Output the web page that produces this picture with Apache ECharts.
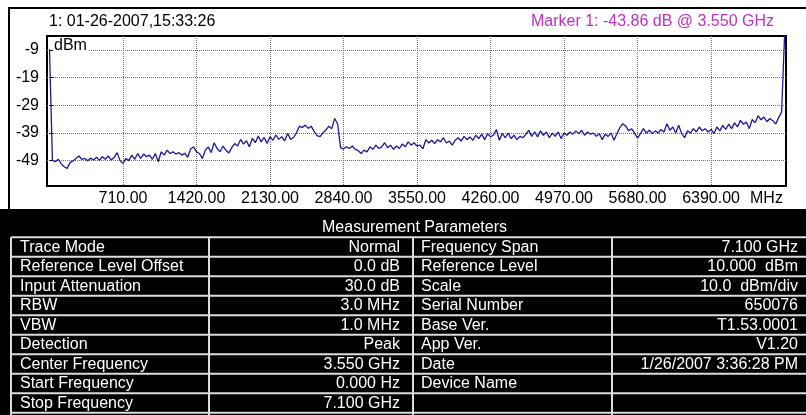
<!DOCTYPE html>
<html>
<head>
<meta charset="utf-8">
<script src="https://cdn.jsdelivr.net/npm/echarts@6/dist/echarts.min.js"></script>
<style>
  html, body { margin: 0; padding: 0; background: #fff; }
  #chart { width: 806px; height: 415px; }
</style>
</head>
<body>
<div id="chart"></div>
<script>
// Sweep settings of the spectrum trace (MHz)
const startFreqMHz = 0;
const stopFreqMHz = 7100;

// Trace levels (dBm), one per sweep point from start to stop frequency
const traceLevels = [
  -8.7, -49.0, -49.5, -48.6, -50.3, -51.3, -51.9, -49.8, -49.2, -48.3, -47.4, -48.6, -48.3, -49.1, -48.2, -48.9, -47.9, -49.0, -47.7, -48.6, -47.4, -48.9, -47.9, -46.2, -49.1,
  -50.1, -48.3, -49.1, -47.1, -48.6, -46.5, -48.3, -46.7, -47.7, -47.1, -48.6, -46.5, -49.5, -45.9, -47.1, -45.3, -46.5, -45.9, -46.7, -46.2, -47.1, -46.4, -47.9, -44.9, -44.1,
  -45.9, -46.5, -48.3, -45.3, -44.1, -46.2, -42.6, -44.7, -45.9, -43.8, -45.3, -46.3, -44.4, -42.9, -43.8, -41.4, -43.1, -41.9, -44.1, -41.0, -42.6, -40.2, -42.3, -40.7, -42.9,
  -40.4, -41.7, -39.8, -41.4, -40.4, -41.9, -39.2, -41.4, -40.7, -39.0, -36.6, -37.1, -36.2, -37.4, -36.6, -38.5, -40.0, -40.4, -39.0, -38.0, -36.6, -37.5, -33.8, -35.8, -44.4,
  -44.9, -44.1, -44.7, -43.8, -45.0, -45.5, -46.5, -45.3, -45.9, -44.1, -45.0, -43.5, -44.7, -44.1, -42.6, -44.4, -43.5, -45.0, -43.8, -44.7, -43.1, -44.1, -42.3, -43.5, -42.6,
  -43.86, -43.5, -44.8, -41.5, -42.7, -41.7, -42.9, -41.5, -42.3, -40.8, -42.7, -42.0, -43.5, -41.7, -40.8, -42.0, -40.3, -41.5, -40.5, -41.7, -39.9, -41.1, -39.5, -41.5, -39.3,
  -40.5, -39.8, -37.8, -41.7, -39.3, -40.8, -39.1, -41.1, -39.9, -41.5, -40.3, -40.8, -39.6, -38.1, -40.3, -38.7, -40.5, -38.3, -39.9, -38.7, -40.8, -39.1, -40.3, -38.7, -41.1,
  -39.1, -39.9, -38.7, -39.5, -38.3, -39.3, -38.1, -39.9, -38.7, -39.5, -39.1, -40.3, -39.3, -41.5, -39.5, -40.3, -39.1, -41.7, -39.3, -37.1, -35.7, -36.6, -38.3, -37.5, -39.1,
  -40.9, -39.3, -37.5, -39.1, -38.1, -39.3, -38.3, -39.1, -37.8, -38.7, -35.7, -38.1, -36.9, -39.1, -36.3, -39.3, -40.8, -38.3, -39.1, -37.5, -38.7, -36.9, -38.3, -37.5, -38.7,
  -37.8, -39.3, -36.9, -38.3, -36.3, -37.8, -35.9, -37.5, -35.4, -36.9, -34.5, -35.9, -35.1, -37.5, -34.2, -35.4, -32.8, -34.3, -33.3, -35.0, -33.8, -34.6, -35.8, -33.5, -31.5,
  -3.9
];

// Axis ticks
const levelTicks = [-49, -39, -29, -19, -9];
const freqTicks = [710, 1420, 2130, 2840, 3550, 4260, 4970, 5680, 6390];
const levelUnit = 'dBm';
const freqUnit = 'MHz';

// Header texts
const traceStamp = '1: 01-26-2007,15:33:26';
const markerReadout = 'Marker 1: -43.86 dB @ 3.550 GHz';

// Measurement parameter table
const tableTitle = 'Measurement Parameters';
const paramNamesLeft = ['Trace Mode', 'Reference Level Offset', 'Input Attenuation', 'RBW', 'VBW', 'Detection', 'Center Frequency', 'Start Frequency', 'Stop Frequency'];
const paramValuesLeft = ['Normal', '0.0 dB', '30.0 dB', '3.0 MHz', '1.0 MHz', 'Peak', '3.550 GHz', '0.000 Hz', '7.100 GHz'];
const paramNamesRight = ['Frequency Span', 'Reference Level', 'Scale', 'Serial Number', 'Base Ver.', 'App Ver.', 'Date', 'Device Name', ''];
const paramValuesRight = ['7.100 GHz', '10.000  dBm', '10.0  dBm/div', '650076', 'T1.53.0001', 'V1.20', '1/26/2007 3:36:28 PM', '', ''];

const FONT = '"Liberation Sans", Arial, Helvetica, sans-serif';
const font16 = '16px ' + FONT;

const step = (stopFreqMHz - startFreqMHz) / (traceLevels.length - 1);
const traceData = traceLevels.map((v, i) => [startFreqMHz + i * step, v]);

// Table drawing
const tableTop = 237.3;
const rowH = 19.5;
const colLines = [11, 209, 413, 612];
const graphics = [];

// frame of the upper panel
graphics.push({ type: 'line', shape: { x1: 9, y1: 7, x2: 9, y2: 210 }, style: { stroke: '#000', lineWidth: 2 } });
graphics.push({ type: 'line', shape: { x1: 8, y1: 8, x2: 806, y2: 8 }, style: { stroke: '#000', lineWidth: 2 } });

graphics.push({ type: 'text', x: 49, y: 22, style: { text: traceStamp, fill: '#000', font: font16, align: 'left', verticalAlign: 'middle' } });
graphics.push({ type: 'text', x: 774, y: 22, style: { text: markerReadout, fill: '#c22fc6', font: font16, align: 'right', verticalAlign: 'middle' } });
graphics.push({ type: 'text', x: 53, y: 46, z: 10, style: { text: levelUnit, fill: '#000', font: font16, align: 'left', verticalAlign: 'middle', backgroundColor: '#fff', padding: [0, 1] } });
graphics.push({ type: 'text', x: 750, y: 198.5, style: { text: freqUnit, fill: '#000', font: font16, align: 'left', verticalAlign: 'middle' } });

// black parameter panel
graphics.push({ type: 'rect', shape: { x: 0, y: 209, width: 806, height: 206 }, style: { fill: '#000' } });
graphics.push({ type: 'text', x: 414.5, y: 228, style: { text: tableTitle, fill: '#fff', font: font16, align: 'center', verticalAlign: 'middle' } });

for (let i = 0; i <= paramNamesLeft.length; i++) {
  const y = tableTop + i * rowH;
  graphics.push({ type: 'line', shape: { x1: 11, y1: y, x2: 806, y2: y }, style: { stroke: '#dcdcdc', lineWidth: 2 } });
}
colLines.forEach(x => {
  graphics.push({ type: 'line', shape: { x1: x, y1: tableTop, x2: x, y2: 415 }, style: { stroke: '#dcdcdc', lineWidth: 2 } });
});
paramNamesLeft.forEach((name, i) => {
  const cy = tableTop + i * rowH + rowH / 2 + 0.5;
  const cells = [
    [name, 20, 'left'],
    [paramValuesLeft[i], 400, 'right'],
    [paramNamesRight[i], 421, 'left'],
    [paramValuesRight[i], 798, 'right']
  ];
  cells.forEach(([t, x, al]) => {
    if (!t) return;
    graphics.push({ type: 'text', x: x, y: cy, style: { text: t, fill: '#fff', font: font16, align: al, verticalAlign: 'middle' } });
  });
});

const gridLine = { show: true, lineStyle: { color: '#707070', type: [1, 1], width: 1 } };

const chart = echarts.init(document.getElementById('chart'), null, { renderer: 'canvas' });
chart.setOption({
  animation: false,
  backgroundColor: '#fff',
  grid: {
    left: 47, top: 36, width: 739, height: 150,
    show: true, borderColor: '#000', borderWidth: 2, backgroundColor: '#fff',
    outerBoundsMode: 'none'
  },
  xAxis: {
    type: 'value',
    min: -24, max: 7114,
    axisLine: { show: false },
    axisTick: { show: false, customValues: freqTicks },
    axisLabel: {
      customValues: freqTicks,
      formatter: v => v.toFixed(2),
      color: '#000', fontSize: 16, fontFamily: FONT, margin: 5
    },
    splitLine: gridLine
  },
  yAxis: {
    type: 'value',
    min: -58.3, max: -3.9,
    axisLine: { show: false },
    axisTick: { show: true, inside: true, length: 4, customValues: levelTicks, lineStyle: { color: '#000', width: 1 } },
    axisLabel: { customValues: levelTicks, color: '#000', fontSize: 16, fontFamily: FONT, margin: 8 },
    splitLine: gridLine
  },
  series: [{
    type: 'line',
    data: traceData,
    symbol: 'none',
    clip: true,
    lineStyle: { color: '#1a1a98', width: 1.3 }
  }],
  graphic: graphics
});
</script>
</body>
</html>
